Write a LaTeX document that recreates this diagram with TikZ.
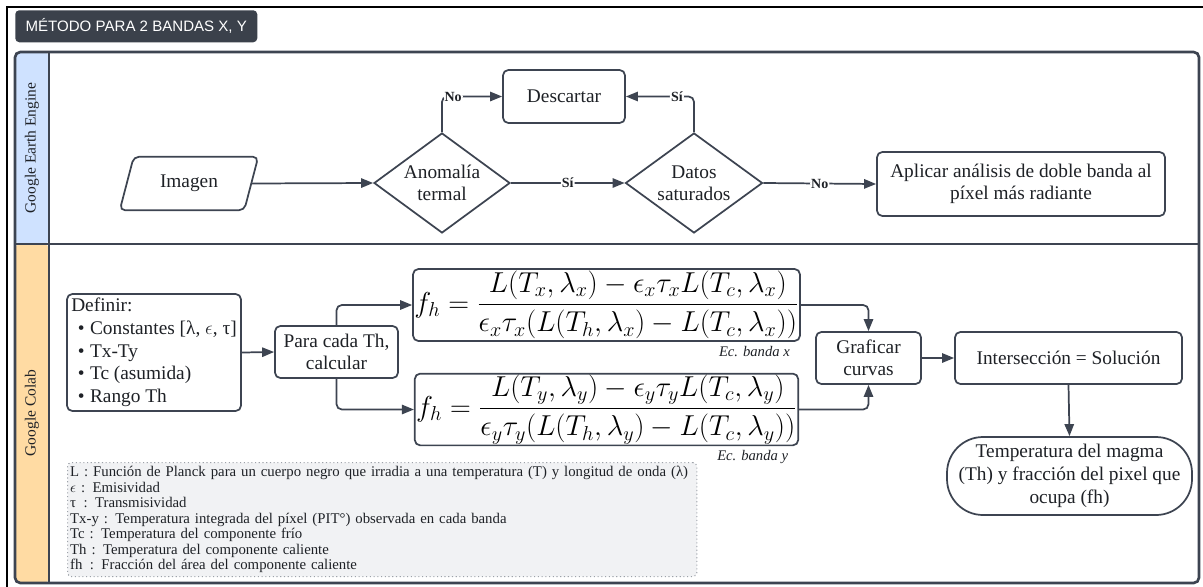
\RequirePackage{fix-cm}
\documentclass[tikz,border=0pt]{standalone}
\usepackage{amsmath}
\usepackage{fontspec}
\setmainfont{Liberation Serif}
\newfontfamily\headfont{Liberation Sans}
\usetikzlibrary{arrows.meta,shapes.geometric,calc}

\definecolor{ink}{HTML}{3D4451}
\definecolor{txt}{HTML}{1E2126}
\definecolor{titlebg}{HTML}{3B414B}
\definecolor{laneblue}{HTML}{CFE2FF}
\definecolor{laneorange}{HTML}{FFDBA3}
\definecolor{notebg}{HTML}{F1F2F4}
\definecolor{notedot}{HTML}{9DA2A9}

\tikzset{
  sz/.style 2 args={minimum width=#1*0.75pt, minimum height=#2*0.75pt},
  box/.style={draw=ink, line width=1.3pt, rounded corners=4pt, fill=white,
    align=center, text=txt, inner sep=2pt, font=\fontsize{14.5}{17}\selectfont},
  decision/.style={diamond, draw=ink, line width=1.3pt, fill=white, align=center,
    text=txt, inner sep=0pt, aspect=1.36, font=\fontsize{14.5}{16.5}\selectfont},
  flow/.style={draw=ink, line width=1.3pt, rounded corners=4pt,
    -{Triangle[length=9pt,width=7pt]}},
  tag/.style={font=\bfseries\fontsize{10.5}{12}\selectfont, fill=white,
    inner sep=0.8pt, text=txt},
  eqbox/.style={draw=ink, line width=1.3pt, rounded corners=4pt, fill=white,
    text=black, inner sep=1pt, font=\fontsize{21.6}{25}\selectfont},
  eqnote/.style={font=\itshape\fontsize{11}{12}\selectfont, text=txt, inner sep=1pt},
  lanelabel/.style={rotate=90, text=txt, font=\fontsize{11.6}{13}\selectfont},
  notes/.style={draw=notedot, dotted, line width=0.8pt, fill=notebg, rounded corners=3pt,
    align=left, text=txt, anchor=north west, inner xsep=2pt, inner ysep=2pt,
    text width=468pt, minimum height=114*0.75pt,
    font=\fontsize{11.1}{11.6}\selectfont},
}

\begin{document}
\begin{tikzpicture}[x=0.75pt,y=-0.75pt]
\useasboundingbox (0,0) rectangle (1203,586);

% page frame (top and left edges)
\draw[black, line width=1.5pt] (7,600) -- (7,7) -- (1210,7);

% heading tag
\node[fill=titlebg, rounded corners=3pt, text=white, anchor=north west, sz={242}{32},
  font=\headfont\fontsize{11.3}{13}\selectfont, inner sep=0pt] (title) at (15,10)
  {MÉTODO PARA 2 BANDAS X, Y};

% swimlanes
\fill[laneblue, rounded corners=4pt] (15,244) -- (15,52) -- (49,52) -- (49,244) -- cycle;
\fill[laneorange, rounded corners=4pt] (15,244) -- (15,583) -- (49,583) -- (49,244) -- cycle;
\draw[ink, line width=2pt, rounded corners=4pt] (15,52) rectangle (1199,583);
\draw[ink, line width=2pt] (49,52) -- (49,583);
\draw[ink, line width=2pt] (15,244) -- (1199,244);
\node[lanelabel] (laneA) at (32,148) {Google Earth Engine};
\node[lanelabel] (laneB) at (32,413) {Google Colab};

% ---- Google Earth Engine lane ----
% input parallelogram: the node spans its mid-height width, the outline leans right
\node[text=txt, sz={124}{53}, inner sep=0pt, font=\fontsize{14.5}{17}\selectfont]
  (img) at (189,183.5) {Imagen};
\draw[ink, line width=1.3pt, rounded corners=4pt]
  ($(img.south west)+(-7,0)$) -- ($(img.north west)+(7,0)$) --
  ($(img.north east)+(7,0)$) -- ($(img.south east)+(-7,0)$) -- cycle;
\node[decision, sz={136}{100}] (anom) at (442,183) {Anomalía\\termal};
\node[box, sz={122}{53}] (desc) at (564,96.5) {Descartar};
\node[decision, sz={137}{100}] (sat) at (694,183) {Datos\\saturados};
\node[box, sz={288}{64}, font=\fontsize{14.5}{16.5}\selectfont] (dual) at (1021,184)
  {Aplicar análisis de doble banda al\\píxel más radiante};

\draw[flow] (img.east) -- (anom.west);
\draw[flow] (anom.north) |- node[tag, pos=0.5, anchor=west, xshift=0.5pt] {No} (desc.west);
\draw[flow] (anom.east) -- node[tag] {Sí} (sat.west);
\draw[flow] (sat.north) |- node[tag, pos=0.5, anchor=east, xshift=-7pt] {Sí} (desc.east);
\draw[flow] (sat.east) -- node[tag] {No} (dual.west);

% ---- Google Colab lane ----
\node[box, sz={174}{117}, align=left, font=\fontsize{14.5}{17}\selectfont] (def) at (154,352.5)
  {Definir:\\
   \hspace*{5pt}\textbullet\hspace{4pt}Constantes [λ, $\epsilon$, τ]\\
   \hspace*{5pt}\textbullet\hspace{4pt}Tx-Ty\\
   \hspace*{5pt}\textbullet\hspace{4pt}Tc (asumida)\\
   \hspace*{5pt}\textbullet\hspace{4pt}Rango Th};
\node[box, sz={123}{52}, font=\fontsize{14.5}{16.5}\selectfont] (each) at (336.5,352)
  {Para cada Th,\\calcular};
\node[eqbox, sz={383}{72}] (eqx) at (606.5,305)
  {$\displaystyle f_h=\frac{L(T_x,\lambda_x)-\epsilon_x\tau_x L(T_c,\lambda_x)}
    {\epsilon_x\tau_x(L(T_h,\lambda_x)-L(T_c,\lambda_x))}$};
\node[eqbox, sz={383}{71}] (eqy) at (606.5,409.5)
  {$\displaystyle f_h=\frac{L(T_y,\lambda_y)-\epsilon_y\tau_y L(T_c,\lambda_y)}
    {\epsilon_y\tau_y(L(T_h,\lambda_y)-L(T_c,\lambda_y))}$};
\node[eqnote, anchor=north east] (capx) at ([xshift=-7pt,yshift=-2pt]eqx.south east) {Ec. banda x};
\node[eqnote, anchor=north east] (capy) at ([xshift=-7pt,yshift=-2pt]eqy.south east) {Ec. banda y};
\node[box, sz={105}{52}, font=\fontsize{14.5}{16.5}\selectfont] (plot) at (868.5,358)
  {Graficar\\curvas};
\node[box, sz={227}{52}] (cross) at (1068.5,358) {Intersección = Solución};
\node[box, sz={245}{78}, rounded corners=27pt, font=\fontsize{14.5}{17.5}\selectfont]
  (result) at (1069.5,476)
  {Temperatura del magma\\(Th) y fracción del pixel que\\ocupa (fh)};

\draw[flow] (def.east) -- (each.west);
\draw[flow] (each.north) |- (eqx.west);
\draw[flow] (each.south) |- (eqy.west);
\draw[flow] (eqx.east) -| (plot.north);
\draw[flow] (eqy.east) -| (plot.south);
\draw[flow] (plot.east) -- (cross.west);
\draw[flow] (cross.south) -- (result.north);

% symbol glossary
\node[notes] (gloss) at (67,462)
  {L : Función de Planck para un cuerpo negro que irradia a una temperatura (T) y longitud de onda (λ)\\
   $\epsilon$ : Emisividad\\
   τ \,: Transmisividad\\
   Tx-y : Temperatura integrada del píxel (PIT°) observada en cada banda\\
   Tc : Temperatura del componente frío\\
   Th : Temperatura del componente caliente\\
   fh \,: Fracción del área del componente caliente};
\end{tikzpicture}
\end{document}
